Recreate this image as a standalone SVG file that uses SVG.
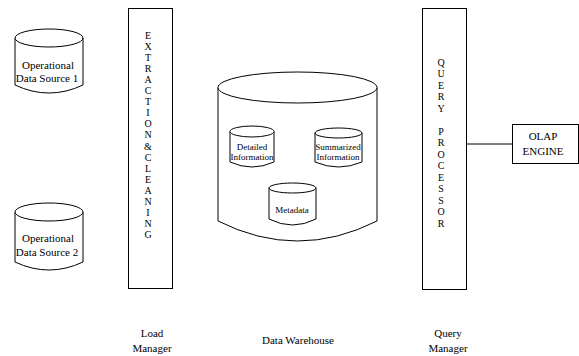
<svg xmlns="http://www.w3.org/2000/svg" width="579" height="356" viewBox="0 0 579 356">
<style>
.s{fill:#fff;stroke:#000;stroke-width:1}
.l{fill:none;stroke:#000;stroke-width:1}
text{font-family:"Liberation Serif","Times New Roman",serif;fill:#000;text-anchor:middle}
.t{font-size:11px}
.m{font-size:9px}
.v{font-size:10px}
</style>
<rect width="579" height="356" fill="#fff"/>
<g id="connectors">
<line class="l" x1="467" y1="144" x2="512" y2="144"/>
</g>
<g id="source1">
<path class="s" d="M15,38 L15,85 Q49,101 83,85 L83,38"/>
<ellipse class="s" cx="49" cy="38" rx="34" ry="9"/>
<text class="t" x="48" y="68.5">Operational</text>
<text class="t" x="47" y="81.5">Data Source 1</text>
</g>
<g id="source2">
<path class="s" d="M15,212 L15,262 Q49,278 83,262 L83,212"/>
<ellipse class="s" cx="49" cy="212" rx="34" ry="9"/>
<text class="t" x="48" y="241.5">Operational</text>
<text class="t" x="47" y="255.5">Data Source 2</text>
</g>
<g id="load-manager">
<rect class="s" x="128.5" y="8.5" width="44" height="280"/>
<g class="v">
<text x="148" y="38.5">E</text>
<text x="148" y="49.6">X</text>
<text x="148" y="60.7">T</text>
<text x="148" y="71.8">R</text>
<text x="148" y="82.9">A</text>
<text x="148" y="94">C</text>
<text x="148" y="105.1">T</text>
<text x="148" y="116.2">I</text>
<text x="148" y="127.3">O</text>
<text x="148" y="138.4">N</text>
<text x="148" y="149.5">&amp;</text>
<text x="148" y="160.6">C</text>
<text x="148" y="171.7">L</text>
<text x="148" y="182.8">E</text>
<text x="148" y="193.9">A</text>
<text x="148" y="205">N</text>
<text x="148" y="216.1">I</text>
<text x="148" y="227.2">N</text>
<text x="148" y="238.3">G</text>
</g>
<text class="t" x="152" y="337">Load</text>
<text class="t" x="152" y="352">Manager</text>
</g>
<g id="data-warehouse">
<path class="s" d="M218,87.5 L218,221 Q297.5,261 377,221 L377,87.5"/>
<ellipse class="s" cx="297.5" cy="87.5" rx="79.5" ry="15.5"/>
<text class="t" x="298" y="344">Data Warehouse</text>
</g>
<g id="detailed">
<path class="s" d="M230,131.5 L230,162 Q252,172 274,162 L274,131.5"/>
<ellipse class="s" cx="252" cy="131.5" rx="22" ry="5.5"/>
<text class="m" x="252" y="150">Detailed</text>
<text class="m" x="252" y="160">Information</text>
</g>
<g id="summarized">
<path class="s" d="M315,133 L315,162 Q338.5,172 362,162 L362,133"/>
<ellipse class="s" cx="338.5" cy="133" rx="23.5" ry="5"/>
<text class="m" x="338" y="150">Summarized</text>
<text class="m" x="338" y="160">Information</text>
</g>
<g id="metadata">
<path class="s" d="M269,188 L269,219 Q292.5,231 316,219 L316,188"/>
<ellipse class="s" cx="292.5" cy="188" rx="23.5" ry="5"/>
<text class="m" x="292" y="213">Metadata</text>
</g>
<g id="query-manager">
<rect class="s" x="422.5" y="8.5" width="44" height="281"/>
<g class="v">
<text x="441" y="65.5">Q</text>
<text x="441" y="77">U</text>
<text x="441" y="88.5">E</text>
<text x="441" y="100">R</text>
<text x="441" y="111.5">Y</text>
<text x="441" y="134.5">P</text>
<text x="441" y="146">R</text>
<text x="441" y="157.5">O</text>
<text x="441" y="169">C</text>
<text x="441" y="180.5">E</text>
<text x="441" y="192">S</text>
<text x="441" y="203.5">S</text>
<text x="441" y="215">O</text>
<text x="441" y="226.5">R</text>
</g>
<text class="t" x="448" y="337">Query</text>
<text class="t" x="448" y="352">Manager</text>
</g>
<g id="olap-engine">
<rect class="s" x="512.5" y="124.5" width="66" height="39"/>
<text class="t" x="543" y="140">OLAP</text>
<text class="t" x="543" y="155">ENGINE</text>
</g>
</svg>
